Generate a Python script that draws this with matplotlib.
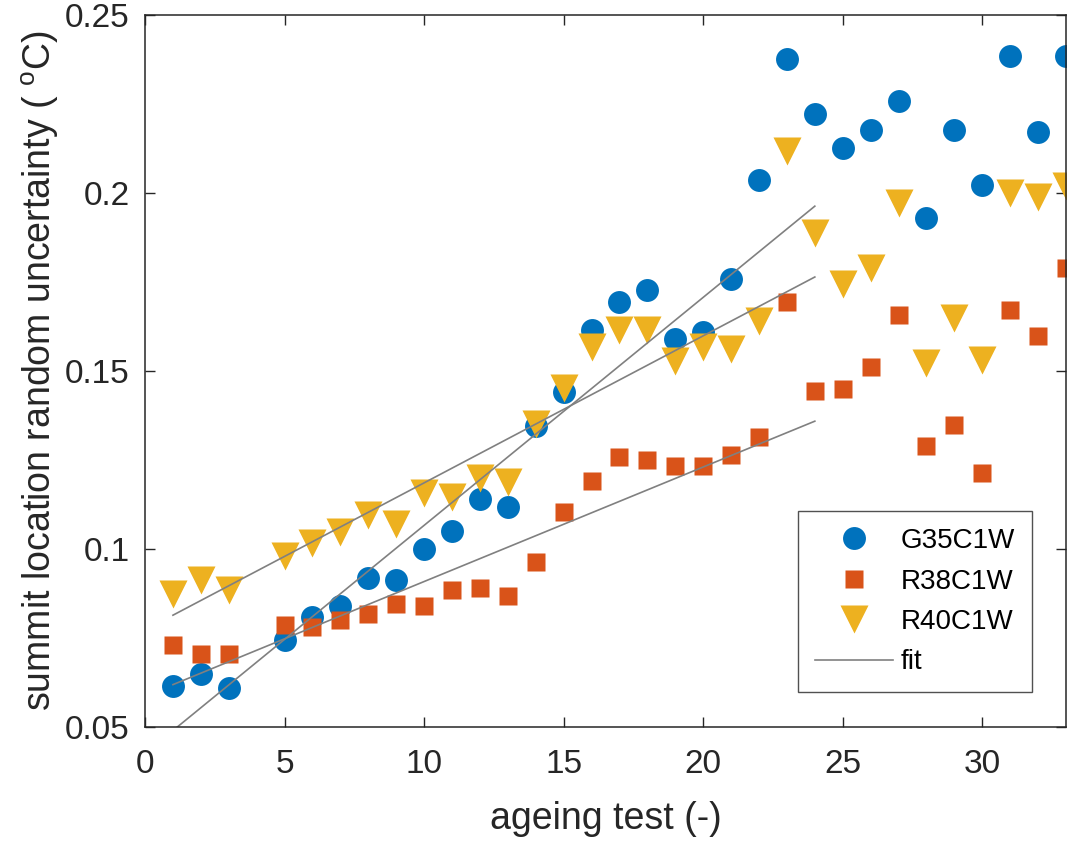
import numpy as np
import matplotlib
matplotlib.use("Agg")
import matplotlib.pyplot as plt

plt.rcParams["font.family"] = ["Liberation Sans", "DejaVu Sans"]
plt.rcParams["mathtext.fontset"] = "custom"
plt.rcParams["mathtext.rm"] = "Liberation Sans"
plt.rcParams["mathtext.it"] = "Liberation Sans"

# ageing tests (test 4 missing)
tests = [1, 2, 3, 5, 6, 7, 8, 9, 10, 11, 12, 13, 14, 15, 16, 17, 18, 19, 20, 21,
         22, 23, 24, 25, 26, 27, 28, 29, 30, 31, 32, 33]

g35c1w = [0.0615, 0.0648, 0.0610, 0.0743, 0.0810, 0.0840, 0.0918, 0.0912, 0.1000,
          0.1050, 0.1140, 0.1117, 0.1345, 0.1440, 0.1615, 0.1693, 0.1727, 0.1590,
          0.1610, 0.1758, 0.2036, 0.2376, 0.2222, 0.2126, 0.2177, 0.2258, 0.1930,
          0.2177, 0.2022, 0.2385, 0.2171, 0.2385]

r38c1w = [0.0730, 0.0704, 0.0704, 0.0786, 0.0780, 0.0800, 0.0817, 0.0845, 0.0839,
          0.0884, 0.0890, 0.0867, 0.0963, 0.1103, 0.1190, 0.1258, 0.1250, 0.1233,
          0.1233, 0.1264, 0.1314, 0.1693, 0.1443, 0.1448, 0.1510, 0.1657, 0.1289,
          0.1348, 0.1213, 0.1671, 0.1598, 0.1789]

r40c1w = [0.0873, 0.0912, 0.0884, 0.0980, 0.1016, 0.1047, 0.1095, 0.1070, 0.1157,
          0.1145, 0.1199, 0.1188, 0.1350, 0.1452, 0.1567, 0.1615, 0.1615, 0.1528,
          0.1567, 0.1561, 0.1640, 0.2118, 0.1887, 0.1744, 0.1789, 0.1972, 0.1522,
          0.1649, 0.1531, 0.2000, 0.1989, 0.2019]

# fitted lines read at test 1 and test 24
fit_x = [1, 24]
fit_g35 = [0.0490, 0.1963]
fit_r38 = [0.0619, 0.1359]
fit_r40 = [0.0814, 0.1764]

fig = plt.figure(figsize=(10.72, 8.42), dpi=100)
ax = fig.add_axes([0.1353, 0.1366, 0.8591, 0.8456])

ax.plot(tests, g35c1w, "o", color="#0072BD", ms=16.5, mec="none", label="G35C1W")
ax.plot(tests, r38c1w, "s", color="#D95319", ms=13, mec="none", label="R38C1W")
ax.plot(tests, r40c1w, "v", color="#EDB120", ms=20, mec="none", label="R40C1W")
ax.plot(fit_x, fit_g35, color="#808080", lw=1.2, label="fit")
ax.plot(fit_x, fit_r38, color="#808080", lw=1.2)
ax.plot(fit_x, fit_r40, color="#808080", lw=1.2)

ax.set_xlim(0, 33)
ax.set_ylim(0.05, 0.25)
ax.set_xticks([0, 5, 10, 15, 20, 25, 30])
ax.set_yticks([0.05, 0.1, 0.15, 0.2, 0.25])
ax.set_yticklabels(["0.05", "0.1", "0.15", "0.2", "0.25"])
ax.tick_params(direction="in", length=7, width=1, labelsize=24, colors="#262626",
               top=True, right=True)
ax.tick_params(axis="x", pad=16)
ax.tick_params(axis="y", pad=11)
for s in ax.spines.values():
    s.set_color("#262626")
    s.set_linewidth(1.1)

ax.set_xlabel("ageing test (-)", fontsize=27, color="#262626", labelpad=15)
ax.set_ylabel(r"summit location random uncertainty ( $^{\mathrm{o}}$C)", fontsize=27,
              color="#262626", labelpad=3)

leg = ax.legend(loc="lower right", bbox_to_anchor=(0.963, 0.049), fontsize=20,
                frameon=True, fancybox=False, edgecolor="#262626", handlelength=2.8,
                labelspacing=0.52, borderpad=0.6, handletextpad=0.3, borderaxespad=0)
leg.get_frame().set_linewidth(1.0)

fig.savefig("out.png", dpi=100)
